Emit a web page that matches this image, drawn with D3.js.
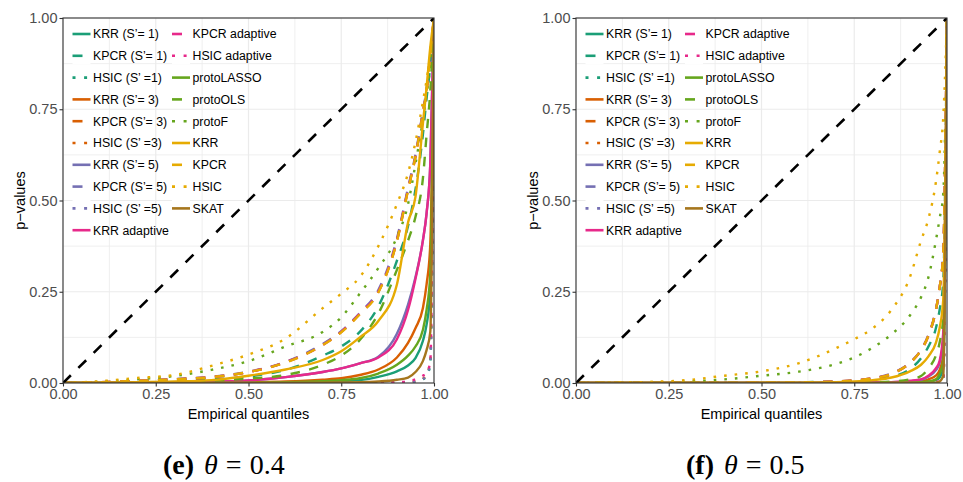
<!DOCTYPE html>
<html>
<head>
<meta charset="utf-8">
<script src="https://cdn.jsdelivr.net/npm/d3@7"></script>
<style>
  body { margin: 0; background: #fff; }
  svg { display: block; }
</style>
</head>
<body>
<div id="root"><svg width="963" height="482"></svg></div>
<script>
const quantiles = [0, 0.1, 0.2, 0.3, 0.4, 0.5, 0.6, 0.7, 0.75, 0.8, 0.85, 0.9, 0.93, 0.95, 0.97, 0.98, 0.99, 1];

const seriesNames = [
  'KRR (S’= 1)', 'KPCR (S’= 1)', 'HSIC (S’ =1)',
  'KRR (S’= 3)', 'KPCR (S’= 3)', 'HSIC (S’ =3)',
  'KRR (S’= 5)', 'KPCR (S’= 5)', 'HSIC (S’ =5)',
  'KRR adaptive', 'KPCR adaptive', 'HSIC adaptive',
  'protoLASSO', 'protoOLS', 'protoF',
  'KRR', 'KPCR', 'HSIC', 'SKAT'
];
const seriesColors = [
  '#1B9E77', '#1B9E77', '#1B9E77',
  '#D95F02', '#D95F02', '#D95F02',
  '#7570B3', '#7570B3', '#7570B3',
  '#E7298A', '#E7298A', '#E7298A',
  '#66A61E', '#66A61E', '#66A61E',
  '#E6AB02', '#E6AB02', '#E6AB02', '#A6761D'
];
const seriesTypes = [
  'solid', 'dashed', 'dotted', 'solid', 'dashed', 'dotted', 'solid', 'dashed', 'dotted',
  'solid', 'dashed', 'dotted', 'solid', 'dashed', 'dotted', 'solid', 'dashed', 'dotted', 'solid'
];

// p-values, theta = 0.4 (one row per series, same order as seriesNames)
const pvalsTheta04 = [
  [0, 0, 0, 0.0005, 0.001, 0.001, 0.002, 0.003, 0.005, 0.008, 0.017, 0.032, 0.048, 0.068, 0.115, 0.16, 0.25, 1],
  [0, 0.001, 0.003, 0.006, 0.01, 0.018, 0.036, 0.075, 0.1, 0.14, 0.21, 0.335, 0.43, 0.53, 0.68, 0.78, 0.87, 1],
  [0, 0, 0, 0, 0, 0, 0, 0, 0, 0, 0, 0.001, 0.002, 0.004, 0.01, 0.02, 0.05, 1],
  [0, 0.0001, 0.0003, 0.0006, 0.001, 0.002, 0.004, 0.009, 0.013, 0.022, 0.037, 0.07, 0.11, 0.15, 0.205, 0.27, 0.38, 1],
  [0, 0.002, 0.006, 0.01, 0.016, 0.03, 0.057, 0.105, 0.14, 0.19, 0.25, 0.39, 0.53, 0.62, 0.74, 0.8, 0.9, 1],
  [0, 0, 0, 0, 0, 0, 0, 0, 0, 0, 0, 0.001, 0.002, 0.005, 0.012, 0.025, 0.06, 1],
  [0, 0.0003, 0.0008, 0.0015, 0.003, 0.007, 0.016, 0.03, 0.04, 0.054, 0.072, 0.135, 0.215, 0.29, 0.39, 0.465, 0.6, 1],
  [0, 0.002, 0.006, 0.011, 0.017, 0.031, 0.058, 0.107, 0.142, 0.192, 0.255, 0.395, 0.535, 0.625, 0.745, 0.805, 0.9, 1],
  [0, 0, 0, 0, 0, 0, 0, 0, 0, 0, 0, 0.001, 0.002, 0.004, 0.011, 0.022, 0.055, 1],
  [0, 0.0003, 0.0008, 0.0015, 0.003, 0.007, 0.016, 0.03, 0.04, 0.054, 0.07, 0.12, 0.2, 0.285, 0.39, 0.465, 0.6, 1],
  [0, 0.002, 0.006, 0.01, 0.016, 0.03, 0.057, 0.104, 0.14, 0.19, 0.25, 0.39, 0.53, 0.62, 0.74, 0.8, 0.9, 1],
  [0, 0, 0, 0, 0, 0, 0, 0, 0, 0, 0.001, 0.002, 0.005, 0.01, 0.02, 0.027, 0.06, 1],
  [0, 0, 0, 0, 0.0005, 0.001, 0.002, 0.005, 0.008, 0.013, 0.026, 0.05, 0.075, 0.1, 0.145, 0.2, 0.3, 1],
  [0, 0.0005, 0.001, 0.003, 0.006, 0.012, 0.022, 0.05, 0.075, 0.118, 0.19, 0.31, 0.39, 0.455, 0.56, 0.68, 0.8, 1],
  [0, 0.003, 0.01, 0.019, 0.036, 0.06, 0.1, 0.14, 0.18, 0.245, 0.315, 0.4, 0.49, 0.6, 0.72, 0.79, 0.87, 1],
  [0, 0.001, 0.002, 0.004, 0.008, 0.02, 0.037, 0.063, 0.087, 0.125, 0.17, 0.27, 0.44, 0.51, 0.71, 0.81, 0.92, 1],
  [0, 0.002, 0.006, 0.01, 0.016, 0.03, 0.056, 0.104, 0.139, 0.188, 0.248, 0.388, 0.528, 0.62, 0.74, 0.8, 0.9, 1],
  [0, 0.005, 0.014, 0.022, 0.047, 0.078, 0.122, 0.205, 0.245, 0.29, 0.375, 0.49, 0.575, 0.66, 0.77, 0.83, 0.9, 1],
  [0, 0, 0, 0, 0, 0, 0.0005, 0.001, 0.0015, 0.002, 0.004, 0.009, 0.015, 0.03, 0.06, 0.09, 0.14, 1]
];

// p-values, theta = 0.5
const pvalsTheta05 = [
  [0, 0, 0, 0, 0, 0, 0, 0, 0, 0, 0.0005, 0.001, 0.002, 0.004, 0.008, 0.015, 0.04, 1],
  [0, 0, 0, 0.0002, 0.0005, 0.001, 0.002, 0.004, 0.006, 0.009, 0.017, 0.038, 0.068, 0.1, 0.15, 0.2, 0.28, 1],
  [0, 0, 0, 0, 0, 0, 0, 0, 0, 0, 0, 0, 0, 0, 0.001, 0.002, 0.005, 1],
  [0, 0, 0, 0, 0, 0, 0, 0, 0, 0.0005, 0.001, 0.002, 0.004, 0.01, 0.02, 0.035, 0.08, 1],
  [0, 0, 0, 0.0002, 0.0004, 0.0006, 0.0012, 0.004, 0.007, 0.013, 0.025, 0.055, 0.09, 0.13, 0.2, 0.26, 0.36, 1],
  [0, 0, 0, 0, 0, 0, 0, 0, 0, 0, 0, 0, 0, 0, 0.001, 0.002, 0.006, 1],
  [0, 0, 0, 0, 0, 0, 0, 0.0005, 0.001, 0.0015, 0.002, 0.005, 0.009, 0.018, 0.035, 0.055, 0.12, 1],
  [0, 0, 0, 0.0002, 0.0004, 0.0006, 0.0012, 0.004, 0.007, 0.013, 0.026, 0.056, 0.091, 0.132, 0.2, 0.26, 0.36, 1],
  [0, 0, 0, 0, 0, 0, 0, 0, 0, 0, 0, 0, 0, 0, 0.001, 0.002, 0.006, 1],
  [0, 0, 0, 0, 0, 0, 0, 0.0005, 0.001, 0.0015, 0.002, 0.006, 0.01, 0.02, 0.04, 0.06, 0.14, 1],
  [0, 0, 0, 0.0002, 0.0004, 0.0006, 0.0012, 0.004, 0.007, 0.013, 0.025, 0.055, 0.09, 0.13, 0.2, 0.26, 0.36, 1],
  [0, 0, 0, 0, 0, 0, 0, 0, 0, 0, 0, 0, 0, 0.001, 0.003, 0.005, 0.008, 1],
  [0, 0, 0, 0, 0, 0, 0, 0, 0, 0, 0.0005, 0.001, 0.002, 0.004, 0.01, 0.025, 0.06, 1],
  [0, 0, 0, 0, 0, 0, 0.0005, 0.001, 0.0015, 0.002, 0.004, 0.01, 0.019, 0.04, 0.075, 0.11, 0.18, 1],
  [0, 0.001, 0.002, 0.004, 0.01, 0.02, 0.031, 0.052, 0.07, 0.097, 0.133, 0.185, 0.235, 0.29, 0.39, 0.45, 0.52, 1],
  [0, 0, 0, 0, 0.0003, 0.0005, 0.001, 0.002, 0.004, 0.008, 0.015, 0.032, 0.05, 0.073, 0.11, 0.15, 0.23, 1],
  [0, 0, 0, 0.0002, 0.0004, 0.0006, 0.0012, 0.004, 0.007, 0.013, 0.025, 0.055, 0.09, 0.13, 0.2, 0.26, 0.36, 1],
  [0, 0.001, 0.003, 0.008, 0.02, 0.032, 0.054, 0.095, 0.12, 0.15, 0.2, 0.29, 0.39, 0.45, 0.55, 0.63, 0.73, 1],
  [0, 0, 0, 0, 0, 0, 0, 0, 0, 0, 0, 0, 0, 0, 0.001, 0.004, 0.02, 1]
];

const panelLetters = ['(e)', '(f)'];
const panelThetas = ['0.4', '0.5'];
const tickValues = [0, 0.25, 0.5, 0.75, 1];
const minorValues = [0.125, 0.375, 0.625, 0.875];

const dashes = { solid: null, dashed: '9.5,9.5', dotted: '2.6,8' };
const keyDashes = { solid: null, dashed: '10,20', dotted: '3,8.6' };

const plotTop = 18;
const plotHeight = 365;
const plotWidth = 371;
const panelLefts = [63, 576];
const captionLefts = [163, 686];

const svg = d3.select('#root svg');
const xScale = d3.scaleLinear().domain([0, 1]).range([0, plotWidth]);
const yScale = d3.scaleLinear().domain([0, 1]).range([plotHeight, 0]);
const fmt = d3.format('.2f');

function drawPanel(idx, pvals) {
  const g = svg.append('g')
    .attr('transform', `translate(${panelLefts[idx]} ${plotTop})`);

  // grid
  g.selectAll('line.minx').data(minorValues).enter().append('line')
    .attr('x1', (d) => xScale(d)).attr('x2', (d) => xScale(d))
    .attr('y1', 0).attr('y2', plotHeight)
    .attr('stroke', '#ebebeb').attr('stroke-width', 0.8);
  g.selectAll('line.miny').data(minorValues).enter().append('line')
    .attr('y1', (d) => yScale(d)).attr('y2', (d) => yScale(d))
    .attr('x1', 0).attr('x2', plotWidth)
    .attr('stroke', '#ebebeb').attr('stroke-width', 0.8);
  g.selectAll('line.majx').data(tickValues).enter().append('line')
    .attr('x1', (d) => xScale(d)).attr('x2', (d) => xScale(d))
    .attr('y1', 0).attr('y2', plotHeight)
    .attr('stroke', '#ebebeb').attr('stroke-width', 1.2);
  g.selectAll('line.majy').data(tickValues).enter().append('line')
    .attr('y1', (d) => yScale(d)).attr('y2', (d) => yScale(d))
    .attr('x1', 0).attr('x2', plotWidth)
    .attr('stroke', '#ebebeb').attr('stroke-width', 1.2);

  // legend (two columns, 10 + 9)
  const legend = g.append('g');
  seriesNames.forEach((name, i) => {
    const col = i < 10 ? 0 : 1;
    const row = i < 10 ? i : i - 10;
    const kx = col === 0 ? 9.5 : 109;
    const ky = 16 + row * 21.8;
    legend.append('rect')
      .attr('x', kx).attr('y', ky - 8.5).attr('width', 18).attr('height', 17)
      .attr('fill', '#fff');
    legend.append('line')
      .attr('x1', kx).attr('x2', kx + 18).attr('y1', ky).attr('y2', ky)
      .attr('stroke', seriesColors[i]).attr('stroke-width', 2.6)
      .attr('stroke-dasharray', keyDashes[seriesTypes[i]]);
    legend.append('text')
      .attr('x', kx + 20.5).attr('y', ky).attr('dy', '0.36em')
      .attr('font-family', 'Liberation Sans, Arial, sans-serif')
      .attr('font-size', '12.3px').attr('fill', '#000')
      .text(name);
  });

  // curves
  const clipId = 'clip' + idx;
  g.append('clipPath').attr('id', clipId).append('rect')
    .attr('width', plotWidth).attr('height', plotHeight);
  const line = d3.line()
    .x((d) => xScale(d[0]))
    .y((d) => yScale(d[1]))
    .curve(d3.curveMonotoneX);
  const curves = g.append('g').attr('clip-path', `url(#${clipId})`);
  pvals.forEach((row, i) => {
    curves.append('path')
      .datum(quantiles.map((q, j) => [q, row[j]]))
      .attr('d', line)
      .attr('fill', 'none')
      .attr('stroke', seriesColors[i])
      .attr('stroke-width', 2.4)
      .attr('stroke-dasharray', dashes[seriesTypes[i]]);
  });
  curves.append('path')
    .datum([[0, 0], [1, 1]])
    .attr('d', d3.line().x((d) => xScale(d[0])).y((d) => yScale(d[1])))
    .attr('stroke', '#000').attr('stroke-width', 2.6)
    .attr('stroke-dasharray', '11,10.5');

  // border
  g.append('rect')
    .attr('width', plotWidth).attr('height', plotHeight)
    .attr('fill', 'none').attr('stroke', '#333').attr('stroke-width', 1.1);

  // axes
  const xAxis = d3.axisBottom(xScale).tickValues(tickValues).tickFormat(fmt).tickSize(3.5).tickPadding(2);
  const yAxis = d3.axisLeft(yScale).tickValues(tickValues).tickFormat(fmt).tickSize(3.5).tickPadding(2);
  const gx = g.append('g').attr('transform', `translate(0 ${plotHeight})`).call(xAxis);
  const gy = g.append('g').call(yAxis);
  [gx, gy].forEach((ax) => {
    ax.select('.domain').remove();
    ax.selectAll('line').attr('stroke', '#333').attr('stroke-width', 1.1);
    ax.selectAll('text')
      .attr('font-family', 'Liberation Sans, Arial, sans-serif')
      .attr('font-size', '14.5px').attr('fill', '#4d4d4d');
  });

  g.append('text')
    .attr('x', plotWidth / 2).attr('y', plotHeight + 36)
    .attr('text-anchor', 'middle')
    .attr('font-family', 'Liberation Sans, Arial, sans-serif')
    .attr('font-size', '14.5px').attr('fill', '#000')
    .text('Empirical quantiles');
  g.append('text')
    .attr('transform', `translate(-38 ${plotHeight / 2}) rotate(-90)`)
    .attr('text-anchor', 'middle')
    .attr('font-family', 'Liberation Sans, Arial, sans-serif')
    .attr('font-size', '14.5px').attr('fill', '#000')
    .text('p−values');

  // caption
  const cap = svg.append('text')
    .attr('x', captionLefts[idx]).attr('y', 474)
    .attr('font-family', 'Liberation Serif, Times New Roman, serif')
    .attr('font-size', '28px').attr('fill', '#000');
  cap.append('tspan').attr('font-weight', 'bold').text(panelLetters[idx]);
  cap.append('tspan').attr('dx', 10).attr('font-style', 'italic').text('θ');
  cap.append('tspan').attr('dx', 8).text('=');
  cap.append('tspan').attr('dx', 8).text(panelThetas[idx]);
}

drawPanel(0, pvalsTheta04);
drawPanel(1, pvalsTheta05);
</script>
</body>
</html>
